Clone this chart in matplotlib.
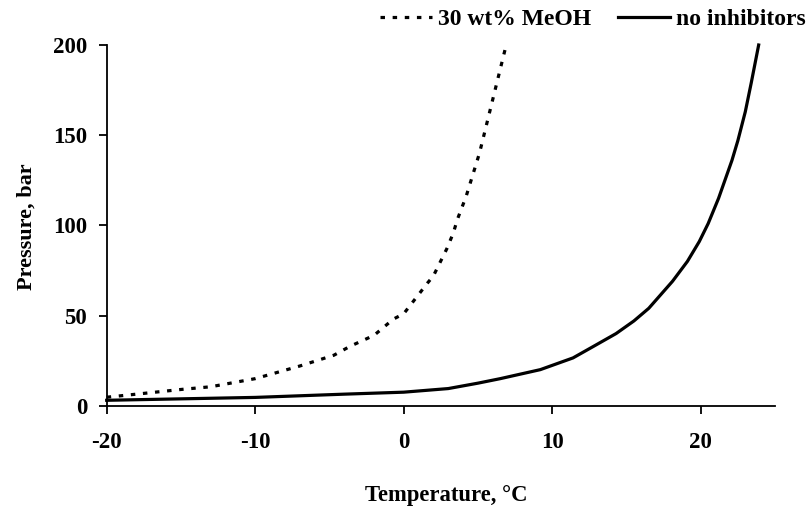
import matplotlib
matplotlib.use("Agg")
import matplotlib.pyplot as plt
from matplotlib.lines import Line2D

# Data
meoh_T = [-20, -18, -15, -13, -10, -7, -4.7, -3.6, -2, -0.7, 0, 1.6, 2.0, 2.9, 3.35, 3.6, 4.2, 5.1, 6.0, 6.9]
meoh_P = [4.7, 6.4, 9, 10.5, 15, 22, 28, 33, 39, 48, 51, 68, 72, 87, 96, 103, 116, 140, 170, 200]

noinh_T = [-20, -15, -10, -4, 0, 3, 5, 6.5, 9.2, 11.4, 12.8, 14.3, 15.5, 16.5, 18.1, 19.1, 19.9, 20.5, 21.2, 22.1, 22.5, 23.0, 23.4, 23.9]
noinh_P = [3, 3.8, 4.6, 6.4, 7.5, 9.5, 12.5, 15, 20, 26.5, 33, 40, 47, 54, 69, 80, 91, 101, 115, 136, 147, 163, 179, 200]

x_ticks = [-20, -10, 0, 10, 20]
y_ticks = [0, 50, 100, 150, 200]
series_labels = ["30 wt% MeOH", "no inhibitors"]

plt.rcParams['font.family'] = ['Liberation Serif', 'DejaVu Serif']
plt.rcParams['font.weight'] = 'bold'
plt.rcParams['axes.unicode_minus'] = False

W, H = 809, 507
fig = plt.figure(figsize=(W / 100, H / 100), dpi=100)
left, right, bottom, top = 106.7, 775, 405.7, 45
ax = fig.add_axes([left / W, 1 - bottom / H, (right - left) / W, (bottom - top) / H])

dash_style = (0, (1.4, 2.4))
ax.plot(meoh_T, meoh_P, color='black', lw=2.3, linestyle=dash_style, clip_on=False)
ax.plot(noinh_T, noinh_P, color='black', lw=2.3, linestyle='-', clip_on=False)

ax.set_xlim(-20, 25)
ax.set_ylim(0, 200)
ax.set_xticks(x_ticks)
ax.set_yticks(y_ticks)
ax.tick_params(axis='both', direction='out', length=6, width=1.3, labelsize=16.5)
ax.tick_params(axis='x', pad=13)
ax.tick_params(axis='y', pad=8)
for s in ['top', 'right']:
    ax.spines[s].set_visible(False)
for s in ['left', 'bottom']:
    ax.spines[s].set_linewidth(1.3)

ax.set_xlabel("Temperature, °C", fontsize=16.3, fontweight='bold')
ax.set_ylabel("Pressure, bar", fontsize=16, fontweight='bold')
ax.xaxis.set_label_coords((446 - left) / (right - left), (bottom - 495) / (bottom - top))
ax.xaxis.label.set_verticalalignment('center')
ax.yaxis.set_label_coords((27 - left) / (right - left), (bottom - 226.5) / (bottom - top))
ax.yaxis.label.set_verticalalignment('center')

handles = [Line2D([], [], color='black', lw=2.3, linestyle=dash_style),
           Line2D([], [], color='black', lw=2.3, linestyle='-')]
fig.legend(handles, series_labels, loc='center right', ncol=2, frameon=False,
           bbox_to_anchor=(806 / W, 1 - 19 / H), fontsize=17, handlelength=2.2,
           handletextpad=0.25, columnspacing=1.15, borderpad=0, borderaxespad=0)

fig.savefig("out.png", dpi=100)
